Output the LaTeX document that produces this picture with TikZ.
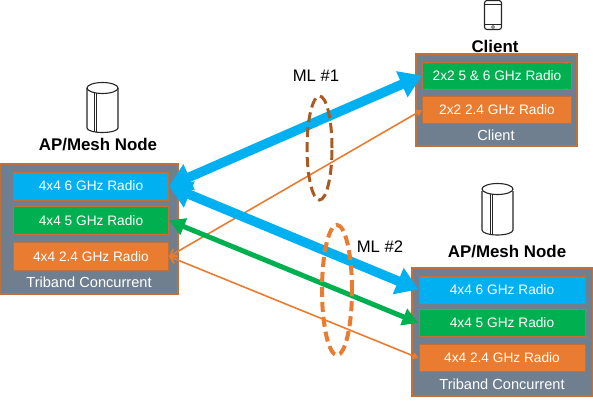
\documentclass[tikz,border=0pt]{standalone}
\usepackage{fontspec}
\setmainfont{Liberation Sans}
\usetikzlibrary{arrows.meta,positioning,shapes.geometric}
\definecolor{wfblue}{HTML}{00B0F0}
\definecolor{wfgreen}{HTML}{00B050}
\definecolor{wforange}{HTML}{E97C30}
\definecolor{wfgray}{HTML}{6F7F90}
\definecolor{wfrim}{HTML}{C0703A}
\definecolor{wfbrown}{HTML}{A85A22}
\begin{document}
\begin{tikzpicture}[x=1pt,y=-1pt,
      panel/.style={draw=wfrim,fill=wfgray,line width=1.2pt,inner sep=0pt},
      radio/.style={draw=wfrim,line width=1pt,inner sep=0pt,text=white,font=\fontsize{13.7}{15}\selectfont},
      caption/.style={text=white,inner sep=0pt,font=\fontsize{14.6}{16}\selectfont},
      title/.style={inner sep=0pt,font=\bfseries\fontsize{16.9}{19}\selectfont},
      mltext/.style={inner sep=0pt,font=\fontsize{16.7}{19}\selectfont},
      ring/.style={ellipse,draw,inner sep=0pt,line width=3pt,dash pattern=on 10pt off 5pt},
      fat/.style={line width=9.5pt,draw=wfblue,{Triangle[length=22pt,width=27pt]}-{Triangle[length=22pt,width=27pt]}},
      mid/.style={line width=5pt,draw=wfgreen,{Triangle[length=16pt,width=17pt]}-{Triangle[length=16pt,width=17pt]}},
      thin/.style={line width=1.6pt,draw=wforange,{Straight Barb[length=6pt,width=9pt]}-{Triangle[length=6pt,width=7pt]}},
      icon/.style={draw=black!85,line width=1.1pt,fill=white}]
    \useasboundingbox (0,0) rectangle (593,400);
    % left node
    \node[panel,minimum width=178pt,minimum height=130pt] (lpanel) at (89,229) {};
    \node[radio,fill=wfblue,minimum width=155pt,minimum height=28pt] (l6) at (91,186) {4x4 6 GHz Radio};
    \node[radio,fill=wfgreen,minimum width=155pt,minimum height=28pt,below=5.5pt of l6] (l5) {4x4 5 GHz Radio};
    \node[radio,fill=wforange,minimum width=155pt,minimum height=28pt,below=7pt of l5] (l24) {4x4 2.4 GHz Radio};
    \node[caption] (lcap) at (89,282) {Triband Concurrent};
    \node[title] (ltitle) at (98,145) {AP/Mesh Node};
    % client
    \node[panel,minimum width=161pt,minimum height=92pt] (cpanel) at (496.5,100) {};
    \node[radio,fill=wfgreen,minimum width=149pt,minimum height=27pt] (c56) at (497,75.5) {2x2 5 \& 6 GHz Radio};
    \node[radio,fill=wforange,minimum width=149pt,minimum height=27pt,below=6.5pt of c56] (c24) {2x2 2.4 GHz Radio};
    \node[caption] (ccap) at (496,135) {Client};
    \node[title] (ctitle) at (495,46) {Client};
    % right node
    \node[panel,minimum width=181pt,minimum height=128pt] (rpanel) at (502.5,332) {};
    \node[radio,fill=wfblue,minimum width=166pt,minimum height=27pt] (r6) at (502,289.5) {4x4 6 GHz Radio};
    \node[radio,fill=wfgreen,minimum width=166pt,minimum height=27pt,below=5.5pt of r6] (r5) {4x4 5 GHz Radio};
    \node[radio,fill=wforange,minimum width=166pt,minimum height=27pt,below=7pt of r5] (r24) {4x4 2.4 GHz Radio};
    \node[caption] (rcap) at (502,384) {Triband Concurrent};
    \node[title] (rtitle) at (507,252) {AP/Mesh Node};
    % links
    \draw[thin] (l24.east) -- (c24.west);
    \draw[thin] (l24.east) -- (r24.west);
    \draw[mid] (l5.east) -- (r5.west);
    \draw[fat] (l6.east) -- (c56.west);
    \draw[fat] (l6.east) -- (r6.west);
    % multi-link groups
    \node[ring,draw=wfbrown,minimum width=25pt,minimum height=104pt] (ml1) at (319.5,148) {};
    \node[ring,draw=wforange,line width=4pt,minimum width=30pt,minimum height=130pt] (ml2) at (337,290) {};
    \node[mltext] (ml1text) at (316,76) {ML \#1};
    \node[mltext] (ml2text) at (380,247) {ML \#2};
    % icons
    \draw[icon] (87,88) -- (87,128) arc[start angle=180,end angle=360,x radius=15.5,y radius=-4.5] -- (118,88);
    \draw[icon] (102.5,88) ellipse[x radius=15.5,y radius=5.5];
    \draw[draw=black!85,line width=0.7pt] (94,93.2) -- (94,132) (96,93.4) -- (96,132.4);
    \draw[icon] (482,191) -- (482,230) arc[start angle=180,end angle=360,x radius=15.5,y radius=-5] -- (513,191);
    \draw[icon] (497.5,189) ellipse[x radius=15.5,y radius=5.5];
    \draw[draw=black!85,line width=0.7pt] (490,194) -- (490,234.6) (492,194.2) -- (492,235);
    \draw[icon,rounded corners=2.5pt] (484.5,0.5) rectangle (501.5,29.5);
    \draw[draw=black!85,line width=0.6pt] (485,4) -- (501,4) (485,24.5) -- (501,24.5);
    \draw[draw=black!85,line width=0.6pt] (493,27) circle[radius=1.5];
\end{tikzpicture}
\end{document}
